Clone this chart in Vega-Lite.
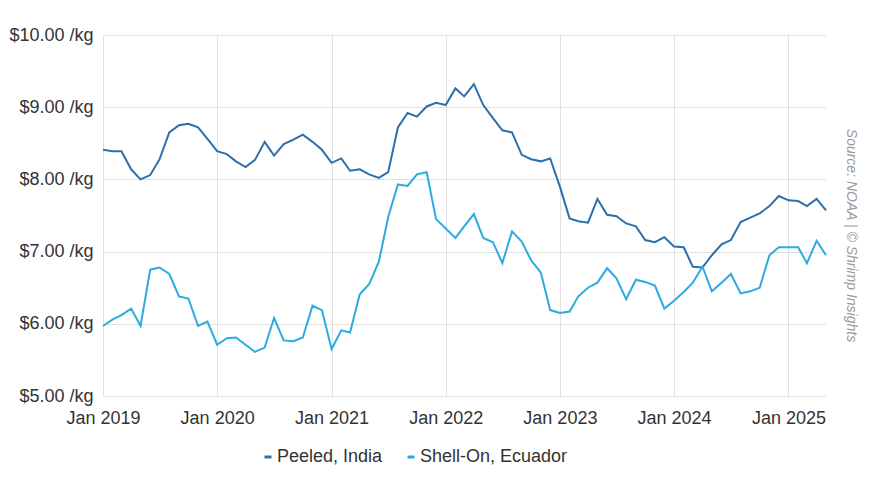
{
  "$schema": "https://vega.github.io/schema/vega-lite/v6.json",
  "width": 723,
  "height": 361,
  "autosize": {"type": "none"},
  "padding": {"left": 103, "top": 35, "right": 44, "bottom": 93},
  "background": "white",
  "title": {
    "text": "Source: NOAA | © Shrimp Insights",
    "orient": "right",
    "anchor": "middle",
    "offset": 14,
    "dx": 20,
    "font": "Liberation Sans",
    "fontSize": 14,
    "fontStyle": "italic",
    "fontWeight": "normal",
    "color": "#9a9a9a"
  },
  "config": {
    "view": {"stroke": null},
    "font": "Liberation Sans",
    "axis": {
      "labelFont": "Liberation Sans",
      "labelFontSize": 18,
      "labelColor": "#333333",
      "gridColor": "#e0e0e0",
      "gridWidth": 1,
      "domain": false,
      "ticks": false,
      "title": null
    },
    "legend": {
      "labelFont": "Liberation Sans",
      "labelFontSize": 18,
      "labelColor": "#333333"
    }
  },
  "data": {
    "values": [
      {"month": "2019-01-01", "series": "Peeled, India", "price": 8.41},
      {"month": "2019-02-01", "series": "Peeled, India", "price": 8.39},
      {"month": "2019-03-01", "series": "Peeled, India", "price": 8.39},
      {"month": "2019-04-01", "series": "Peeled, India", "price": 8.14},
      {"month": "2019-05-01", "series": "Peeled, India", "price": 8.00},
      {"month": "2019-06-01", "series": "Peeled, India", "price": 8.06},
      {"month": "2019-07-01", "series": "Peeled, India", "price": 8.28},
      {"month": "2019-08-01", "series": "Peeled, India", "price": 8.65},
      {"month": "2019-09-01", "series": "Peeled, India", "price": 8.75},
      {"month": "2019-10-01", "series": "Peeled, India", "price": 8.77},
      {"month": "2019-11-01", "series": "Peeled, India", "price": 8.72},
      {"month": "2019-12-01", "series": "Peeled, India", "price": 8.56},
      {"month": "2020-01-01", "series": "Peeled, India", "price": 8.39},
      {"month": "2020-02-01", "series": "Peeled, India", "price": 8.35},
      {"month": "2020-03-01", "series": "Peeled, India", "price": 8.25},
      {"month": "2020-04-01", "series": "Peeled, India", "price": 8.17},
      {"month": "2020-05-01", "series": "Peeled, India", "price": 8.27},
      {"month": "2020-06-01", "series": "Peeled, India", "price": 8.52},
      {"month": "2020-07-01", "series": "Peeled, India", "price": 8.33},
      {"month": "2020-08-01", "series": "Peeled, India", "price": 8.49},
      {"month": "2020-09-01", "series": "Peeled, India", "price": 8.55},
      {"month": "2020-10-01", "series": "Peeled, India", "price": 8.62},
      {"month": "2020-11-01", "series": "Peeled, India", "price": 8.52},
      {"month": "2020-12-01", "series": "Peeled, India", "price": 8.41},
      {"month": "2021-01-01", "series": "Peeled, India", "price": 8.23},
      {"month": "2021-02-01", "series": "Peeled, India", "price": 8.29},
      {"month": "2021-03-01", "series": "Peeled, India", "price": 8.12},
      {"month": "2021-04-01", "series": "Peeled, India", "price": 8.14},
      {"month": "2021-05-01", "series": "Peeled, India", "price": 8.07},
      {"month": "2021-06-01", "series": "Peeled, India", "price": 8.02},
      {"month": "2021-07-01", "series": "Peeled, India", "price": 8.10},
      {"month": "2021-08-01", "series": "Peeled, India", "price": 8.72},
      {"month": "2021-09-01", "series": "Peeled, India", "price": 8.92},
      {"month": "2021-10-01", "series": "Peeled, India", "price": 8.87},
      {"month": "2021-11-01", "series": "Peeled, India", "price": 9.01},
      {"month": "2021-12-01", "series": "Peeled, India", "price": 9.06},
      {"month": "2022-01-01", "series": "Peeled, India", "price": 9.03},
      {"month": "2022-02-01", "series": "Peeled, India", "price": 9.26},
      {"month": "2022-03-01", "series": "Peeled, India", "price": 9.15},
      {"month": "2022-04-01", "series": "Peeled, India", "price": 9.32},
      {"month": "2022-05-01", "series": "Peeled, India", "price": 9.03},
      {"month": "2022-06-01", "series": "Peeled, India", "price": 8.85},
      {"month": "2022-07-01", "series": "Peeled, India", "price": 8.68},
      {"month": "2022-08-01", "series": "Peeled, India", "price": 8.65},
      {"month": "2022-09-01", "series": "Peeled, India", "price": 8.34},
      {"month": "2022-10-01", "series": "Peeled, India", "price": 8.28},
      {"month": "2022-11-01", "series": "Peeled, India", "price": 8.25},
      {"month": "2022-12-01", "series": "Peeled, India", "price": 8.29},
      {"month": "2023-01-01", "series": "Peeled, India", "price": 7.90},
      {"month": "2023-02-01", "series": "Peeled, India", "price": 7.46},
      {"month": "2023-03-01", "series": "Peeled, India", "price": 7.42},
      {"month": "2023-04-01", "series": "Peeled, India", "price": 7.40},
      {"month": "2023-05-01", "series": "Peeled, India", "price": 7.73},
      {"month": "2023-06-01", "series": "Peeled, India", "price": 7.51},
      {"month": "2023-07-01", "series": "Peeled, India", "price": 7.49},
      {"month": "2023-08-01", "series": "Peeled, India", "price": 7.39},
      {"month": "2023-09-01", "series": "Peeled, India", "price": 7.35},
      {"month": "2023-10-01", "series": "Peeled, India", "price": 7.16},
      {"month": "2023-11-01", "series": "Peeled, India", "price": 7.13},
      {"month": "2023-12-01", "series": "Peeled, India", "price": 7.20},
      {"month": "2024-01-01", "series": "Peeled, India", "price": 7.07},
      {"month": "2024-02-01", "series": "Peeled, India", "price": 7.06},
      {"month": "2024-03-01", "series": "Peeled, India", "price": 6.79},
      {"month": "2024-04-01", "series": "Peeled, India", "price": 6.78},
      {"month": "2024-05-01", "series": "Peeled, India", "price": 6.95},
      {"month": "2024-06-01", "series": "Peeled, India", "price": 7.10},
      {"month": "2024-07-01", "series": "Peeled, India", "price": 7.16},
      {"month": "2024-08-01", "series": "Peeled, India", "price": 7.41},
      {"month": "2024-09-01", "series": "Peeled, India", "price": 7.47},
      {"month": "2024-10-01", "series": "Peeled, India", "price": 7.53},
      {"month": "2024-11-01", "series": "Peeled, India", "price": 7.63},
      {"month": "2024-12-01", "series": "Peeled, India", "price": 7.77},
      {"month": "2025-01-01", "series": "Peeled, India", "price": 7.71},
      {"month": "2025-02-01", "series": "Peeled, India", "price": 7.70},
      {"month": "2025-03-01", "series": "Peeled, India", "price": 7.63},
      {"month": "2025-04-01", "series": "Peeled, India", "price": 7.73},
      {"month": "2025-05-01", "series": "Peeled, India", "price": 7.57},
      {"month": "2019-01-01", "series": "Shell-On, Ecuador", "price": 5.97},
      {"month": "2019-02-01", "series": "Shell-On, Ecuador", "price": 6.06},
      {"month": "2019-03-01", "series": "Shell-On, Ecuador", "price": 6.12},
      {"month": "2019-04-01", "series": "Shell-On, Ecuador", "price": 6.21},
      {"month": "2019-05-01", "series": "Shell-On, Ecuador", "price": 5.97},
      {"month": "2019-06-01", "series": "Shell-On, Ecuador", "price": 6.75},
      {"month": "2019-07-01", "series": "Shell-On, Ecuador", "price": 6.78},
      {"month": "2019-08-01", "series": "Shell-On, Ecuador", "price": 6.69},
      {"month": "2019-09-01", "series": "Shell-On, Ecuador", "price": 6.38},
      {"month": "2019-10-01", "series": "Shell-On, Ecuador", "price": 6.35},
      {"month": "2019-11-01", "series": "Shell-On, Ecuador", "price": 5.97},
      {"month": "2019-12-01", "series": "Shell-On, Ecuador", "price": 6.03},
      {"month": "2020-01-01", "series": "Shell-On, Ecuador", "price": 5.71},
      {"month": "2020-02-01", "series": "Shell-On, Ecuador", "price": 5.80},
      {"month": "2020-03-01", "series": "Shell-On, Ecuador", "price": 5.81},
      {"month": "2020-04-01", "series": "Shell-On, Ecuador", "price": 5.71},
      {"month": "2020-05-01", "series": "Shell-On, Ecuador", "price": 5.61},
      {"month": "2020-06-01", "series": "Shell-On, Ecuador", "price": 5.67},
      {"month": "2020-07-01", "series": "Shell-On, Ecuador", "price": 6.08},
      {"month": "2020-08-01", "series": "Shell-On, Ecuador", "price": 5.77},
      {"month": "2020-09-01", "series": "Shell-On, Ecuador", "price": 5.76},
      {"month": "2020-10-01", "series": "Shell-On, Ecuador", "price": 5.81},
      {"month": "2020-11-01", "series": "Shell-On, Ecuador", "price": 6.25},
      {"month": "2020-12-01", "series": "Shell-On, Ecuador", "price": 6.19},
      {"month": "2021-01-01", "series": "Shell-On, Ecuador", "price": 5.65},
      {"month": "2021-02-01", "series": "Shell-On, Ecuador", "price": 5.91},
      {"month": "2021-03-01", "series": "Shell-On, Ecuador", "price": 5.88},
      {"month": "2021-04-01", "series": "Shell-On, Ecuador", "price": 6.41},
      {"month": "2021-05-01", "series": "Shell-On, Ecuador", "price": 6.55},
      {"month": "2021-06-01", "series": "Shell-On, Ecuador", "price": 6.86},
      {"month": "2021-07-01", "series": "Shell-On, Ecuador", "price": 7.48},
      {"month": "2021-08-01", "series": "Shell-On, Ecuador", "price": 7.93},
      {"month": "2021-09-01", "series": "Shell-On, Ecuador", "price": 7.91},
      {"month": "2021-10-01", "series": "Shell-On, Ecuador", "price": 8.07},
      {"month": "2021-11-01", "series": "Shell-On, Ecuador", "price": 8.10},
      {"month": "2021-12-01", "series": "Shell-On, Ecuador", "price": 7.45},
      {"month": "2022-01-01", "series": "Shell-On, Ecuador", "price": 7.32},
      {"month": "2022-02-01", "series": "Shell-On, Ecuador", "price": 7.19},
      {"month": "2022-03-01", "series": "Shell-On, Ecuador", "price": 7.35},
      {"month": "2022-04-01", "series": "Shell-On, Ecuador", "price": 7.52},
      {"month": "2022-05-01", "series": "Shell-On, Ecuador", "price": 7.19},
      {"month": "2022-06-01", "series": "Shell-On, Ecuador", "price": 7.13},
      {"month": "2022-07-01", "series": "Shell-On, Ecuador", "price": 6.84},
      {"month": "2022-08-01", "series": "Shell-On, Ecuador", "price": 7.28},
      {"month": "2022-09-01", "series": "Shell-On, Ecuador", "price": 7.14},
      {"month": "2022-10-01", "series": "Shell-On, Ecuador", "price": 6.88},
      {"month": "2022-11-01", "series": "Shell-On, Ecuador", "price": 6.71},
      {"month": "2022-12-01", "series": "Shell-On, Ecuador", "price": 6.19},
      {"month": "2023-01-01", "series": "Shell-On, Ecuador", "price": 6.15},
      {"month": "2023-02-01", "series": "Shell-On, Ecuador", "price": 6.17},
      {"month": "2023-03-01", "series": "Shell-On, Ecuador", "price": 6.38},
      {"month": "2023-04-01", "series": "Shell-On, Ecuador", "price": 6.50},
      {"month": "2023-05-01", "series": "Shell-On, Ecuador", "price": 6.57},
      {"month": "2023-06-01", "series": "Shell-On, Ecuador", "price": 6.77},
      {"month": "2023-07-01", "series": "Shell-On, Ecuador", "price": 6.63},
      {"month": "2023-08-01", "series": "Shell-On, Ecuador", "price": 6.34},
      {"month": "2023-09-01", "series": "Shell-On, Ecuador", "price": 6.61},
      {"month": "2023-10-01", "series": "Shell-On, Ecuador", "price": 6.58},
      {"month": "2023-11-01", "series": "Shell-On, Ecuador", "price": 6.53},
      {"month": "2023-12-01", "series": "Shell-On, Ecuador", "price": 6.21},
      {"month": "2024-01-01", "series": "Shell-On, Ecuador", "price": 6.32},
      {"month": "2024-02-01", "series": "Shell-On, Ecuador", "price": 6.44},
      {"month": "2024-03-01", "series": "Shell-On, Ecuador", "price": 6.57},
      {"month": "2024-04-01", "series": "Shell-On, Ecuador", "price": 6.79},
      {"month": "2024-05-01", "series": "Shell-On, Ecuador", "price": 6.45},
      {"month": "2024-06-01", "series": "Shell-On, Ecuador", "price": 6.57},
      {"month": "2024-07-01", "series": "Shell-On, Ecuador", "price": 6.69},
      {"month": "2024-08-01", "series": "Shell-On, Ecuador", "price": 6.42},
      {"month": "2024-09-01", "series": "Shell-On, Ecuador", "price": 6.45},
      {"month": "2024-10-01", "series": "Shell-On, Ecuador", "price": 6.50},
      {"month": "2024-11-01", "series": "Shell-On, Ecuador", "price": 6.95},
      {"month": "2024-12-01", "series": "Shell-On, Ecuador", "price": 7.06},
      {"month": "2025-01-01", "series": "Shell-On, Ecuador", "price": 7.06},
      {"month": "2025-02-01", "series": "Shell-On, Ecuador", "price": 7.06},
      {"month": "2025-03-01", "series": "Shell-On, Ecuador", "price": 6.84},
      {"month": "2025-04-01", "series": "Shell-On, Ecuador", "price": 7.15},
      {"month": "2025-05-01", "series": "Shell-On, Ecuador", "price": 6.95}
    ]
  },
  "mark": {"type": "line", "strokeWidth": 2, "interpolate": "linear"},
  "encoding": {
    "x": {
      "field": "month",
      "type": "temporal",
      "scale": {"type": "utc", "nice": false},
      "axis": {
        "values": [
          {"year": 2019, "month": 1, "date": 1, "utc": true},
          {"year": 2020, "month": 1, "date": 1, "utc": true},
          {"year": 2021, "month": 1, "date": 1, "utc": true},
          {"year": 2022, "month": 1, "date": 1, "utc": true},
          {"year": 2023, "month": 1, "date": 1, "utc": true},
          {"year": 2024, "month": 1, "date": 1, "utc": true},
          {"year": 2025, "month": 1, "date": 1, "utc": true}
        ],
        "labelExpr": "utcFormat(datum.value, '%b %Y')",
        "labelPadding": 13,
        "labelFlush": false,
        "labelOverlap": false,
        "grid": true
      }
    },
    "y": {
      "field": "price",
      "type": "quantitative",
      "scale": {"domain": [5, 10], "nice": false, "zero": false},
      "axis": {
        "values": [5, 6, 7, 8, 9, 10],
        "labelExpr": "'$' + format(datum.value, '.2f') + ' /kg'",
        "labelPadding": 10,
        "grid": true
      }
    },
    "color": {
      "field": "series",
      "type": "nominal",
      "scale": {
        "domain": ["Peeled, India", "Shell-On, Ecuador"],
        "range": ["#2c6fad", "#2babe0"]
      },
      "legend": {
        "title": null,
        "orient": "none",
        "direction": "horizontal",
        "legendX": 156,
        "legendY": 413,
        "symbolType": "stroke",
        "symbolSize": 49,
        "symbolStrokeWidth": 3,
        "labelOffset": 0,
        "columnPadding": 18
      }
    }
  }
}
